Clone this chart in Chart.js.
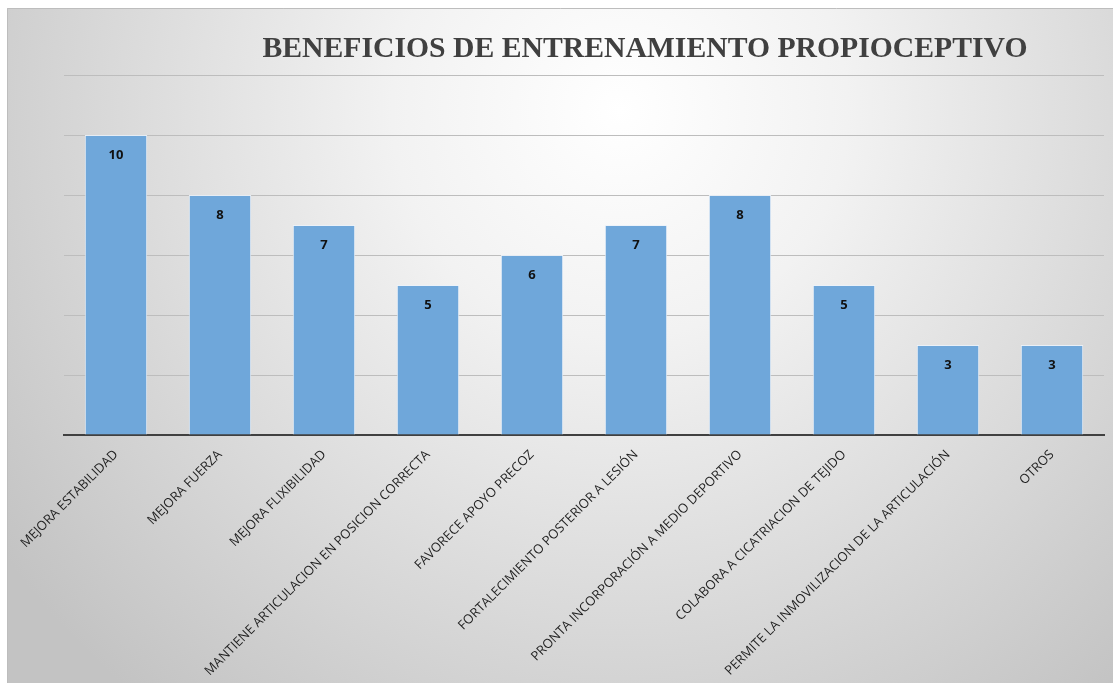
<!DOCTYPE html>
<html>
<head>
<meta charset="utf-8">
<script src="https://cdn.jsdelivr.net/npm/chart.js@4"></script>
<style>
  html, body { margin: 0; padding: 0; background: #ffffff; }
  #wrap { position: relative; width: 1113px; height: 685px; }
</style>
</head>
<body>
<div id="wrap"><canvas id="c" width="1113" height="685"></canvas></div>
<script>
const titleText = "BENEFICIOS DE ENTRENAMIENTO PROPIOCEPTIVO";
const categories = [
  "MEJORA ESTABILIDAD",
  "MEJORA FUERZA",
  "MEJORA FLIXIBILIDAD",
  "MANTIENE ARTICULACION EN POSICION CORRECTA",
  "FAVORECE APOYO PRECOZ",
  "FORTALECIMIENTO POSTERIOR A LESIÓN",
  "PRONTA INCORPORACIÓN A MEDIO DEPORTIVO",
  "COLABORA A CICATRIACION DE TEJIDO",
  "PERMITE LA INMOVILIZACION DE LA ARTICULACIÓN",
  "OTROS"
];
const values = [10, 8, 7, 5, 6, 7, 8, 5, 3, 3];
const yMax = 12;
const yStep = 2;

const backgroundPlugin = {
  id: 'bgFrame',
  beforeDraw(chart) {
    const ctx = chart.ctx;
    const W = chart.width, H = chart.height;
    ctx.save();
    ctx.fillStyle = '#ffffff';
    ctx.fillRect(0, 0, W, H);
    const x0 = 7, y0 = 8, x1 = W, y1 = 683;
    const g = ctx.createRadialGradient(620, 110, 0, 620, 110, 760);
    g.addColorStop(0, '#ffffff');
    g.addColorStop(0.3, '#f2f2f2');
    g.addColorStop(1, '#c3c3c3');
    ctx.fillStyle = g;
    ctx.fillRect(x0, y0, x1 - x0, y1 - y0);
    ctx.strokeStyle = '#bdbdbd';
    ctx.lineWidth = 1;
    ctx.beginPath();
    ctx.moveTo(x0 + 0.5, y1);
    ctx.lineTo(x0 + 0.5, y0 + 0.5);
    ctx.lineTo(x1, y0 + 0.5);
    ctx.stroke();
    ctx.restore();
  }
};

const titlePlugin = {
  id: 'titleDraw',
  afterDraw(chart) {
    const ctx = chart.ctx;
    ctx.save();
    ctx.font = 'bold 29.7px "Liberation Serif", "Times New Roman", serif';
    ctx.fillStyle = '#404040';
    ctx.textAlign = 'center';
    ctx.textBaseline = 'alphabetic';
    ctx.fillText(titleText, 645, 57);
    ctx.restore();
  }
};

const labelPlugin = {
  id: 'valueLabels',
  afterDatasetsDraw(chart) {
    const ctx = chart.ctx;
    const meta = chart.getDatasetMeta(0);
    ctx.save();
    ctx.font = 'bold 13px "Open Sans", "Liberation Sans", sans-serif';
    ctx.fillStyle = '#111111';
    ctx.textAlign = 'center';
    ctx.textBaseline = 'middle';
    meta.data.forEach((bar, i) => {
      ctx.fillText(String(values[i]), bar.x, bar.y + 20);
    });
    ctx.restore();
  }
};

new Chart(document.getElementById('c'), {
  type: 'bar',
  data: {
    labels: categories,
    datasets: [{
      data: values,
      backgroundColor: '#6fa7da',
      borderColor: 'rgba(235,242,250,0.9)',
      borderWidth: 1,
      barPercentage: 0.6,
      categoryPercentage: 1.0
    }]
  },
  options: {
    responsive: false,
    animation: false,
    devicePixelRatio: 1,
    layout: { padding: { top: 75, left: 64, right: 9, bottom: 0 } },
    plugins: {
      legend: { display: false },
      title: { display: false },
      tooltip: { enabled: false }
    },
    scales: {
      x: {
        grid: { display: false },
        border: { display: true, color: '#404040', width: 2 },
        ticks: {
          minRotation: 45,
          maxRotation: 45,
          autoSkip: false,
          color: '#1f1f1f',
          padding: 4,
          font: { family: '"Open Sans", "Liberation Sans", sans-serif', size: 13 }
        },
        afterFit(axis) { axis.height = 250; }
      },
      y: {
        min: 0,
        max: yMax,
        ticks: { display: false, stepSize: yStep },
        border: { display: false },
        grid: { color: '#bdbdbd', lineWidth: 1, drawTicks: false },
        afterFit(axis) { axis.width = 0; }
      }
    }
  },
  plugins: [backgroundPlugin, titlePlugin, labelPlugin]
});
</script>
</body>
</html>
